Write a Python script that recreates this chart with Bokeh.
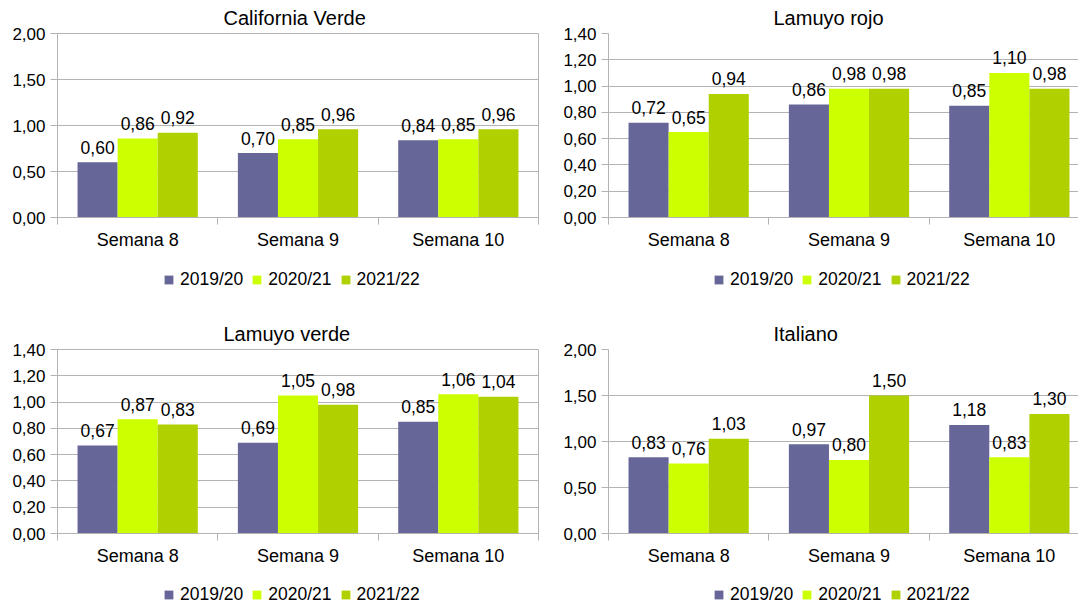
import numpy as np
from bokeh.plotting import figure
from bokeh.models import (ColumnDataSource, Range1d, FixedTicker, CustomJSTickFormatter,
                          Legend, LegendItem)
from bokeh.layouts import column, row
from bokeh.embed import file_html
from bokeh.resources import INLINE
from bokeh.core.properties import value

# ---------------- data ----------------
categories = ["Semana 8", "Semana 9", "Semana 10"]
series = ["2019/20", "2020/21", "2021/22"]
colors = ["#666699", "#ccff00", "#b0d000"]

california_verde_2019_20 = [0.60, 0.70, 0.84]
california_verde_2020_21 = [0.86, 0.85, 0.85]
california_verde_2021_22 = [0.92, 0.96, 0.96]

lamuyo_rojo_2019_20 = [0.72, 0.86, 0.85]
lamuyo_rojo_2020_21 = [0.65, 0.98, 1.10]
lamuyo_rojo_2021_22 = [0.94, 0.98, 0.98]

lamuyo_verde_2019_20 = [0.67, 0.69, 0.85]
lamuyo_verde_2020_21 = [0.87, 1.05, 1.06]
lamuyo_verde_2021_22 = [0.83, 0.98, 1.04]

italiano_2019_20 = [0.83, 0.97, 1.18]
italiano_2020_21 = [0.76, 0.80, 0.83]
italiano_2021_22 = [1.03, 1.50, 1.30]

panel_titles = ["California Verde", "Lamuyo rojo", "Lamuyo verde", "Italiano"]
y_max_values = [2.0, 1.4, 1.4, 2.0]
y_steps = [0.5, 0.2, 0.2, 0.5]

FONT = "Liberation Sans"
GRID = "#b3b3b3"
TXT = "#000000"


def make_panel(title, vals, y_max, y_step, left_side, top_row):
    width = 548 if left_side else 530
    main_h = 262
    leg_h = 54 if top_row else 27
    mb_left = 57 if left_side else 60
    mb_right = 10 if left_side else 0
    mb_top = 33
    frame_h = 184
    frame_w = width - mb_left - mb_right
    cat_px = 481 / 3.0
    x_end = 3.0 if left_side else frame_w / cat_px

    p = figure(width=width, height=main_h,
               x_range=Range1d(0, x_end), y_range=Range1d(0, y_max),
               output_backend="svg", toolbar_location=None,
               min_border_left=mb_left, min_border_right=mb_right,
               min_border_top=mb_top, min_border_bottom=main_h - mb_top - frame_h,
               title=title)
    p.background_fill_color = "white"
    p.border_fill_color = "white"
    p.outline_line_color = GRID if left_side else None

    p.title.align = "left"
    p.title.offset = 166 if left_side else 165
    p.title.standoff = 9
    p.title.text_font = FONT
    p.title.text_font_size = "20px"
    p.title.text_font_style = "normal"
    p.title.text_color = TXT

    # legend strip below the chart (swatch renderers are zero-size bars)
    lg = figure(width=width, height=leg_h,
                x_range=Range1d(0, 1), y_range=Range1d(0, 1),
                output_backend="svg", toolbar_location=None,
                x_axis_location=None, y_axis_location=None,
                min_border_left=0, min_border_right=0,
                min_border_top=0, min_border_bottom=0)
    lg.outline_line_color = None
    lg.xgrid.grid_line_color = None
    lg.ygrid.grid_line_color = None
    lg.background_fill_color = "white"
    lg.border_fill_color = "white"

    centers = np.arange(len(categories)) + 0.5
    offsets = [-0.25, 0.0, 0.25]
    items = []
    for j, (name, v) in enumerate(zip(series, vals)):
        src = ColumnDataSource(dict(
            x=centers + offsets[j], top=v,
            label=[f"{t:.2f}".replace(".", ",") for t in v]))
        p.vbar(x="x", top="top", bottom=0, width=0.25, source=src,
               fill_color=colors[j], line_color=None)
        p.text(x="x", y="top", text="label", source=src,
               text_align="center", text_baseline="middle", y_offset=-15,
               text_font=value(FONT), text_font_size=value("17.5px"),
               text_color=TXT)
        r_leg = lg.vbar(x=[0.5], top=[0.0], bottom=0, width=0.0,
                        fill_color=colors[j], line_color=None)
        items.append(LegendItem(label=name, renderers=[r_leg]))

    # y axis
    n = int(round(y_max / y_step))
    p.yaxis.ticker = FixedTicker(ticks=[round(i * y_step, 2) for i in range(n + 1)])
    p.yaxis.formatter = CustomJSTickFormatter(code="return tick.toFixed(2).replace('.', ',');")
    p.yaxis.axis_line_color = GRID
    p.yaxis.major_tick_line_color = GRID
    p.yaxis.major_tick_out = 7
    p.yaxis.major_tick_in = 0
    p.yaxis.minor_tick_line_color = None
    p.yaxis.major_label_standoff = 5
    p.yaxis.major_label_text_font = FONT
    p.yaxis.major_label_text_font_size = "17px"
    p.yaxis.major_label_text_color = TXT

    # x axis: labels at category centres, ticks at category boundaries
    p.xaxis.ticker = FixedTicker(ticks=list(centers),
                                 minor_ticks=list(range(len(categories) + 1)))
    p.xaxis.formatter = CustomJSTickFormatter(args=dict(labels=categories),
                                              code="return labels[Math.floor(tick)];")
    p.xaxis.axis_line_color = GRID
    p.xaxis.major_tick_line_color = None
    p.xaxis.major_tick_out = 0
    p.xaxis.major_tick_in = 0
    p.xaxis.minor_tick_line_color = GRID
    p.xaxis.minor_tick_out = 7
    p.xaxis.minor_tick_in = 0
    p.xaxis.major_label_standoff = 5
    p.xaxis.major_label_text_font = FONT
    p.xaxis.major_label_text_font_size = "18px"
    p.xaxis.major_label_text_color = TXT

    p.xgrid.grid_line_color = None
    p.ygrid.grid_line_color = GRID
    p.ygrid.ticker = p.yaxis.ticker

    leg_x = 106 if left_side else 105
    leg_y = 26.5 if top_row else 0.5
    legend = Legend(items=items, orientation="horizontal",
                    location=(leg_x, leg_y),
                    border_line_color=None, background_fill_alpha=0,
                    padding=0, margin=0, spacing=8, label_standoff=6,
                    glyph_width=11, glyph_height=11, label_height=13,
                    label_text_font=FONT, label_text_font_size="17.5px",
                    label_text_color=TXT)
    lg.add_layout(legend, "center")
    return column(p, lg, spacing=0)


all_vals = [
    [california_verde_2019_20, california_verde_2020_21, california_verde_2021_22],
    [lamuyo_rojo_2019_20, lamuyo_rojo_2020_21, lamuyo_rojo_2021_22],
    [lamuyo_verde_2019_20, lamuyo_verde_2020_21, lamuyo_verde_2021_22],
    [italiano_2019_20, italiano_2020_21, italiano_2021_22],
]

panels = []
for k in range(4):
    panels.append(make_panel(panel_titles[k], all_vals[k], y_max_values[k], y_steps[k],
                             left_side=(k % 2 == 0), top_row=(k < 2)))

layout = column(row(panels[0], panels[1]), row(panels[2], panels[3]))

open("out.html", "w").write(file_html(layout, INLINE))
